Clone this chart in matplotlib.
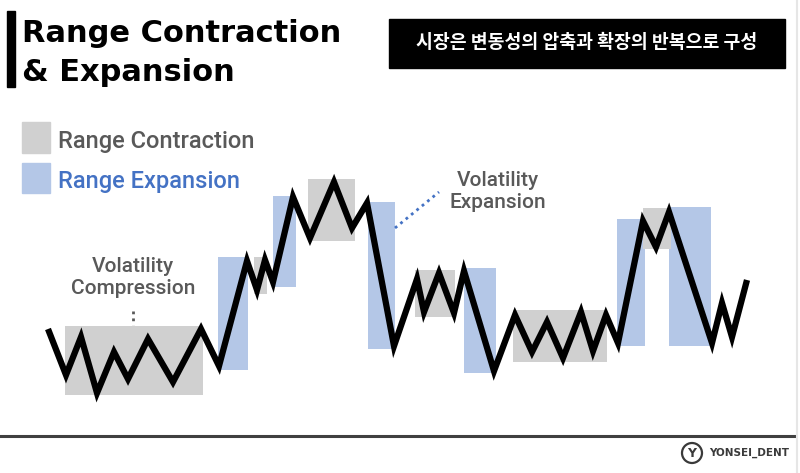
import matplotlib
matplotlib.use("Agg")
import matplotlib.pyplot as plt
from matplotlib.patches import Rectangle, Circle

# ---- data ----
price_x = [48, 66, 81, 97, 114, 128, 148, 173, 201, 219, 247, 257, 265, 273, 293, 310, 334, 352, 367, 394,
           417, 424, 439, 454, 464, 494, 515, 532, 547, 563, 581, 593, 606, 618, 643, 656, 669, 712, 722, 732, 747]
price_level = [144, 98, 136, 80, 121, 94, 134, 91, 144, 107, 212, 183, 213, 191, 276, 235, 291, 245, 270, 127,
               194, 161, 200, 160, 202, 102, 158, 121, 151, 115, 161, 122, 158, 130, 252, 226, 261, 130, 170, 136, 193]

contraction_x0 = [65, 254, 308, 415, 513, 643]
contraction_x1 = [203, 267, 355, 455, 607, 671]
contraction_low = [78, 179, 232, 156, 111, 224]
contraction_high = [147, 216, 294, 203, 163, 265]

expansion_x0 = [218, 273, 368, 464, 617, 669]
expansion_x1 = [248, 296, 395, 496, 645, 711]
expansion_low = [103, 186, 124, 100, 127, 127]
expansion_high = [216, 277, 271, 205, 254, 266]

title_lines = ["Range Contraction", "& Expansion"]
legend_labels = ["Range Contraction", "Range Expansion"]
subtitle = "시장은 변동성의 압축과 확장의 반복으로 구성"
note_compression = "Volatility\nCompression"
note_expansion = "Volatility\nExpansion"
brand = "YONSEI_DENT"

GRAY_BOX = "#D0D0D0"
BLUE_BOX = "#B4C7E7"
GRAY_TXT = "#595959"
BLUE_TXT = "#4472C4"
H = 473

NARROW = ["Roboto", "DejaVu Sans"]

fig = plt.figure(figsize=(8, 4.73), dpi=100)
ax = fig.add_axes([0, 0, 1, 1])
ax.set_xlim(0, 800)
ax.set_ylim(0, H)
ax.axis("off")

# boxes
ax.bar(expansion_x0, [b - a for a, b in zip(expansion_low, expansion_high)],
       width=[b - a for a, b in zip(expansion_x0, expansion_x1)], bottom=expansion_low,
       align="edge", color=BLUE_BOX, zorder=1)
ax.bar(contraction_x0, [b - a for a, b in zip(contraction_low, contraction_high)],
       width=[b - a for a, b in zip(contraction_x0, contraction_x1)], bottom=contraction_low,
       align="edge", color=GRAY_BOX, zorder=2)

# price line
ax.plot(price_x, price_level, color="black", lw=4.5, solid_joinstyle="miter", solid_capstyle="butt", zorder=3)

# title bar and title
ax.add_patch(Rectangle((7, H - 87), 8, 76, color="black"))
ax.text(22, H - 42, title_lines[0], fontsize=22, fontweight="bold", family="DejaVu Sans",
        va="baseline", ha="left")
ax.text(22, H - 81, title_lines[1], fontsize=22, fontweight="bold", family="DejaVu Sans",
        va="baseline", ha="left")

# subtitle box
ax.add_patch(Rectangle((389, H - 68), 396, 49, color="black"))
ax.text(587, H - 43, subtitle, color="white", fontsize=13.2, fontweight="bold",
        family=["Noto Sans CJK KR", "DejaVu Sans"], ha="center", va="center")

# legend
ax.add_patch(Rectangle((22, H - 153), 28, 31, color=GRAY_BOX))
ax.add_patch(Rectangle((22, H - 193), 28, 30, color=BLUE_BOX))
ax.text(58, H - 148, legend_labels[0], color=GRAY_TXT, fontsize=17, family=NARROW,
        fontweight="medium", va="baseline")
ax.text(58, H - 188, legend_labels[1], color=BLUE_TXT, fontsize=17, family=NARROW,
        fontweight="medium", va="baseline")

# annotations
ax.text(133, H - 277, note_compression, color=GRAY_TXT, fontsize=15, family=NARROW,
        fontweight="medium", ha="center", va="center", linespacing=1.2)
ax.plot([133, 133], [H - 311, H - 325], color=GRAY_TXT, lw=2, ls=(0, (1, 1.5)))
ax.text(498, H - 192, note_expansion, color=GRAY_TXT, fontsize=15, family=NARROW,
        fontweight="medium", ha="center", va="center", linespacing=1.2)
ax.plot([395, 439], [H - 228, H - 192], color=BLUE_TXT, lw=2, ls=(0, (1, 1.5)))

# footer
ax.plot([0, 795], [H - 436, H - 436], color="#404040", lw=2.2)
ax.plot([797, 797], [0, H], color="#E6E6E6", lw=1.5)
ax.add_patch(Circle((692, H - 453), 10, fill=False, ec="#3a3a3a", lw=1.6))
ax.text(692, H - 453, "Y", color="#3a3a3a", fontsize=9, fontweight="bold", ha="center", va="center")
ax.text(709, H - 453, brand, color="#3a3a3a", fontsize=7.5, fontweight="bold", ha="left", va="center")

fig.savefig("out.png", dpi=100)
